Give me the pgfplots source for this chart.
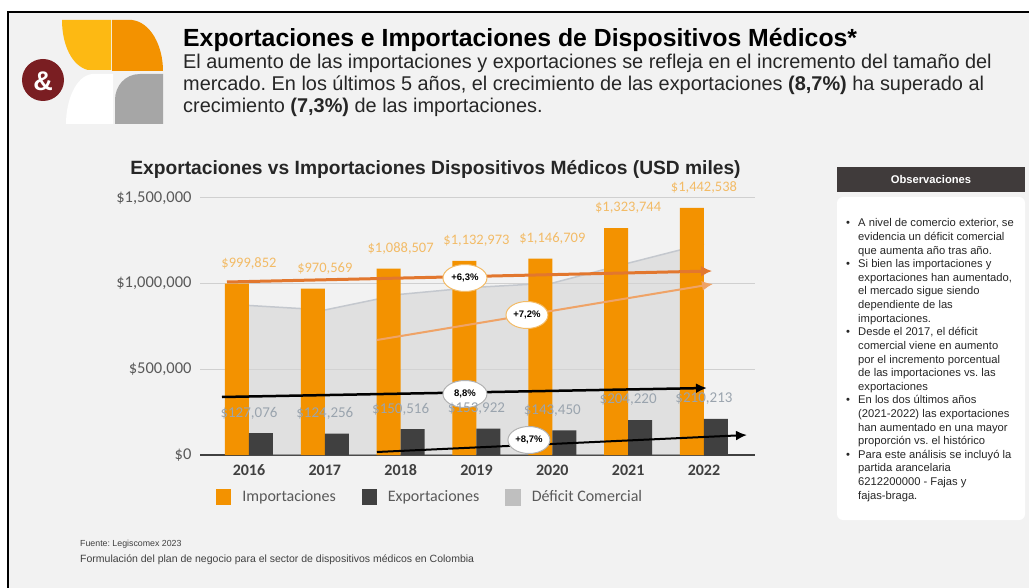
\documentclass[border=0pt]{standalone}
\usepackage{fontspec}
\setmainfont{Liberation Sans}
\newfontfamily\calibri{Carlito}
\usepackage{pgfplots}
\pgfplotsset{compat=1.18}
\usetikzlibrary{arrows.meta,shapes.geometric}
\frenchspacing

\definecolor{slidebg}{HTML}{F2F2F2}
\definecolor{impo}{HTML}{F39200}
\definecolor{expo}{HTML}{404040}
\definecolor{defarea}{HTML}{D4D4D4}
\definecolor{defline}{HTML}{C4C8CE}
\definecolor{legsw}{HTML}{BFBFBF}
\definecolor{gridc}{HTML}{D0D0D0}
\definecolor{ticktxt}{HTML}{404040}
\definecolor{legtxt}{HTML}{595959}
\definecolor{impolab}{HTML}{F3BB66}
\definecolor{expolab}{HTML}{9AA4AE}
\definecolor{arrA}{HTML}{E2772E}
\definecolor{arrB}{HTML}{EFA367}
\definecolor{logoY}{HTML}{FDB913}
\definecolor{logoO}{HTML}{F39200}
\definecolor{logoG}{HTML}{A6A6A6}
\definecolor{logoR}{HTML}{7A1E22}
\definecolor{obsdark}{HTML}{403B3B}
\definecolor{txt}{HTML}{262626}

\newcommand{\fs}[2]{\fontsize{#1}{#2}\selectfont}

\begin{document}
\frenchspacing
\begin{tikzpicture}
\useasboundingbox (0pt,0pt) rectangle (1029pt,-588pt);
\begin{scope}[x=1pt,y=-1pt]
\fill[white] (0,0) rectangle (1029,588);
\fill[slidebg] (8,12) rectangle (1029,588);
\draw[black,line width=2pt] (8,588) -- (8,12) -- (1029,12);
% logo
\fill[white] (113,74) -- (113,124) -- (66,124) .. controls (66,100) and (76,76) .. (92,74) -- cycle;
\fill[logoY] (62,20) -- (111,20) -- (111,70) -- (88,70) .. controls (72,66) and (62,45) .. (62,20) -- cycle;
\fill[logoO] (112,20) -- (132,20) .. controls (150,22) and (163,45) .. (163,71) -- (112,71) -- cycle;
\fill[logoG] (115,124) -- (115,100) .. controls (115,86) and (125,74) .. (140,74) -- (163,74) -- (163,124) -- cycle;
\fill[logoR] (43,80) circle (21);
\node[white, font=\bfseries\fs{27}{27}] at (43,81) {\&};
% titles
\node[anchor=base west, text=black, font=\bfseries\fs{24.8}{24.8}, inner sep=0pt] at (183,47) {Exportaciones e Importaciones de Dispositivos Médicos*};
\node[anchor=base west, text=txt, font=\fs{19.9}{19.9}, inner sep=0pt] at (183,69) {El aumento de las importaciones y exportaciones se refleja en el incremento del tamaño del};
\node[anchor=base west, text=txt, font=\fs{19.9}{19.9}, inner sep=0pt] at (183,91) {mercado. En los últimos 5 años, el crecimiento de las exportaciones \textbf{(8,7\%)} ha superado al};
\node[anchor=base west, text=txt, font=\fs{19.9}{19.9}, inner sep=0pt] at (183,113) {crecimiento \textbf{(7,3\%)} de las importaciones.};
\node[anchor=base, text=txt, font=\bfseries\fs{19.2}{19.2}, inner sep=0pt] at (435.5,175) {Exportaciones vs Importaciones Dispositivos Médicos (USD miles)};
% right panel
\fill[obsdark] (837,167) rectangle (1025,192);
\node[white, font=\bfseries\fs{11.2}{11.2}] at (931,179.5) {Observaciones};
\fill[white, rounded corners=6pt] (837,197) rectangle (1025,520);
\foreach \t [count=\i] in {{A nivel de comercio exterior, se},{evidencia un déficit comercial},{que aumenta año tras año.},{Si bien las importaciones y},{exportaciones han aumentado,},{el mercado sigue siendo},{dependiente de las},{importaciones.},{Desde el 2017, el déficit},{comercial viene en aumento},{por el incremento porcentual},{de las importaciones vs. las},{exportaciones},{En los dos últimos años},{(2021-2022) las exportaciones},{han aumentado en una mayor},{proporción vs. el histórico},{Para este análisis se incluyó la},{partida arancelaria},{6212200000 - Fajas y},{fajas-braga.}}
  {\node[anchor=base west, inner sep=0pt, text=txt, font=\fs{11.2}{11.2}] at (858,{227+13.6*(\i-1)}) {\t};}
\foreach \i in {1,4,9,14,18}
  {\node[anchor=base west, inner sep=0pt, text=txt, font=\fs{11.2}{11.2}] at (846,{227+13.6*(\i-1)}) {•};}
% footer
\node[anchor=base west, inner sep=0pt, text=ticktxt, font=\fs{8.8}{8.8}] at (80,546.5) {Fuente: Legiscomex 2023};
\node[anchor=base west, inner sep=0pt, text=ticktxt, font=\fs{10.5}{10.5}] at (80,562) {Formulación del plan de negocio para el sector de dispositivos médicos en Colombia};
\end{scope}

\begin{axis}[
  at={(200pt,-455pt)}, anchor=south west,
  scale only axis, width=555pt, height=257pt,
  xmin=-0.646, xmax=6.673, ymin=0, ymax=1500000,
  axis line style={draw=none}, major tick length=0pt,
  ymajorgrids, grid style={draw=gridc, line width=1pt},
  ytick={0,500000,1000000,1500000},
  yticklabels={{\$0},{\$500,000},{\$1,000,000},{\$1,500,000}},
  scaled y ticks=false,
  extra y ticks={0}, extra y tick labels={},
  extra y tick style={grid style={draw=ticktxt, line width=1.4pt}},
  xtick={0,1,2,3,4,5,6},
  xticklabels={2016,2017,2018,2019,2020,2021,2022},
  yticklabel style={font=\calibri\fs{16.5}{16.5}, text=legtxt, xshift=-5pt},
  xticklabel style={font=\calibri\bfseries\fs{16}{16}, text=ticktxt, yshift=-6pt},
  clip=false,
  legend columns=3,
  legend style={draw=none, fill=none, at={(axis description cs:0.029,-0.1634)}, anchor=west,
    font=\calibri\fs{16}{16}, text=legtxt, inner sep=0pt,
    /tikz/every odd column/.append style={column sep=9pt},
    /tikz/every even column/.append style={column sep=24pt}},
  legend cell align=left,
]
\addplot[draw=none, fill=defarea, fill opacity=0.6, forget plot]
  coordinates {(0,872776) (1,846313) (2,937991) (3,979051) (4,1003259) (5,1119524) (6,1232325)} \closedcycle;
\addplot[defline, line width=1.5pt, forget plot]
  coordinates {(0,872776) (1,846313) (2,937991) (3,979051) (4,1003259) (5,1119524) (6,1232325)};

\addplot[ybar, bar width=24pt, bar shift=-12pt, fill=impo, draw=none,
  point meta=y,
  nodes near coords={\$\pgfmathprintnumber[fixed,precision=0,1000 sep={,},assume math mode=true]{\pgfplotspointmeta}},
  every node near coord/.append style={font=\calibri\fs{14.5}{14.5}, text=impolab, anchor=center, yshift=20pt},
  legend image code/.code={\fill[impo] (0pt,-8pt) rectangle (15pt,8pt);}]
  coordinates {(0,999852) (1,970569) (2,1088507) (3,1132973) (4,1146709) (5,1323744) (6,1442538)};
\addlegendentry{Importaciones}

\addplot[ybar, bar width=24pt, bar shift=12pt, fill=expo, draw=none,
  point meta=y,
  nodes near coords={\$\pgfmathprintnumber[fixed,precision=0,1000 sep={,},assume math mode=true]{\pgfplotspointmeta}},
  every node near coord/.append style={font=\calibri\fs{15}{15}, text=expolab, anchor=center, yshift=20pt},
  legend image code/.code={\fill[expo] (0pt,-8pt) rectangle (15pt,8pt);}]
  coordinates {(0,127076) (1,124256) (2,150516) (3,153922) (4,143450) (5,204220) (6,210213)};
\addlegendentry{Exportaciones\hspace{7pt}}

\addlegendimage{legend image code/.code={\fill[legsw] (0pt,-8pt) rectangle (15pt,8pt);}}
\addlegendentry{Déficit Comercial}

% trend arrows
\addplot[arrA, line width=3pt, -{Latex[length=11pt,width=11pt]}, forget plot]
  coordinates {(-0.29,1009732) (6.106,1073934)};
\addplot[arrB, line width=2pt, -{Latex[length=11pt,width=10pt]}, forget plot]
  coordinates {(1.688,671209) (6.119,998059)};
\addplot[black, line width=2.5pt, -{Latex[length=11pt,width=10pt]}, forget plot]
  coordinates {(-0.356,338523) (6.04,391052)};
\addplot[black, line width=2pt, -{Latex[length=11pt,width=10pt]}, forget plot]
  coordinates {(1.688,17510) (6.567,116732)};

\node[ellipse, fill=white, draw=impolab, line width=1pt, minimum width=44pt, minimum height=27pt, inner sep=0pt, font=\bfseries\fs{9.5}{9.5}] at (axis cs:2.848,1033078) {+6,3\%};
\node[ellipse, fill=white, draw=impolab, line width=1pt, minimum width=42pt, minimum height=27pt, inner sep=0pt, font=\bfseries\fs{9.5}{9.5}] at (axis cs:3.666,817124) {+7,2\%};
\node[ellipse, fill=white, draw=gray!60, line width=1pt, minimum width=44pt, minimum height=27pt, inner sep=0pt, font=\bfseries\fs{9.5}{9.5}] at (axis cs:2.848,356033) {8,8\%};
\node[ellipse, fill=white, draw=gray!60, line width=1pt, minimum width=42pt, minimum height=27pt, inner sep=0pt, font=\bfseries\fs{9.5}{9.5}] at (axis cs:3.692,87549) {+8,7\%};
\end{axis}
\end{tikzpicture}
\end{document}
